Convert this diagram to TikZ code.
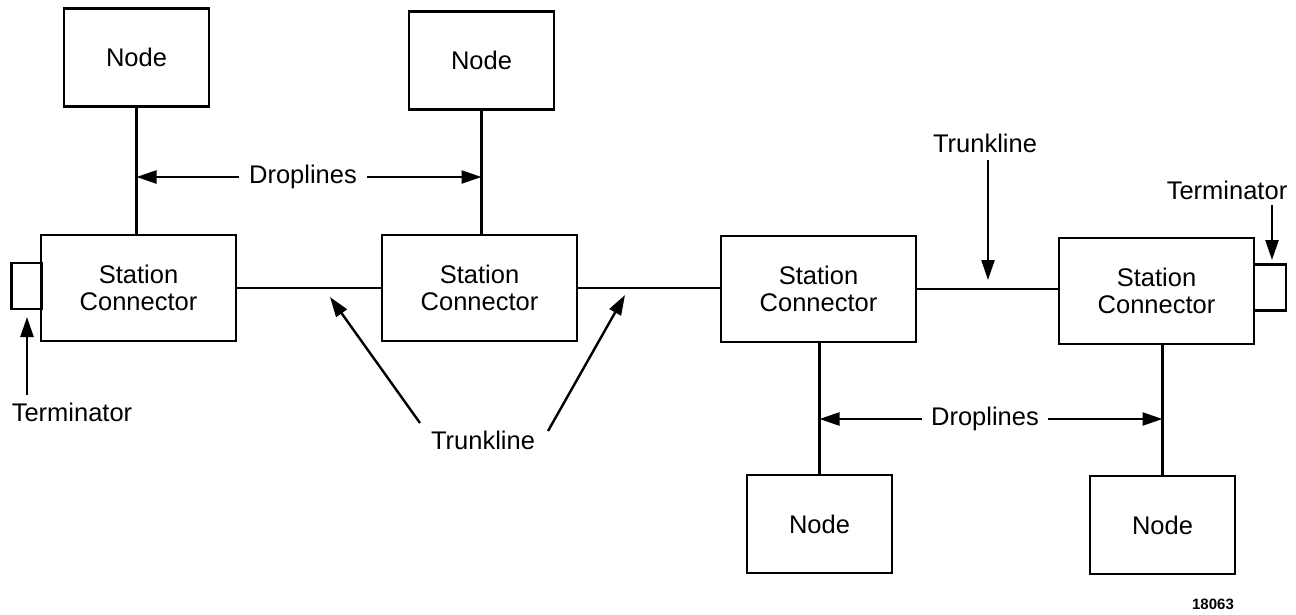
\documentclass[tikz,border=0pt]{standalone}
\usepackage{fontspec}
\setmainfont{Liberation Sans}
\usetikzlibrary{arrows.meta}
\begin{document}
\begin{tikzpicture}[x=1pt,y=-1pt,
  txt/.style={font=\fontsize{25.5}{27}\selectfont},
  box/.style={draw, line width=2.6pt, inner sep=0pt, align=center, txt},
  nodebox/.style={box, minimum width=145pt, minimum height=98pt},
  scbox/.style={box, minimum width=195pt, minimum height=106pt},
  termbox/.style={draw, line width=2.6pt, inner sep=0pt, minimum width=30pt, minimum height=46pt},
  wire/.style={line width=2.4pt},
  arr/.style={line width=2.4pt, -{Triangle[length=20pt,width=13pt]}},
  lbl/.style={txt, inner sep=0pt}]
\useasboundingbox (0,0) rectangle (1296,614);

% boxes
\node[nodebox] (N1) at (136.5,57.5) {Node};
\node[nodebox] (N2) at (481.5,60.5) {Node};
\node[nodebox] (N3) at (819.5,524) {Node};
\node[nodebox] (N4) at (1162.5,525) {Node};

\node[scbox] (SC1) at (138.5,288) {Station\\Connector};
\node[scbox] (SC2) at (479.5,288) {Station\\Connector};
\node[scbox] (SC3) at (818.5,289) {Station\\Connector};
\node[scbox] (SC4) at (1156.5,291) {Station\\Connector};

\node[termbox] (T1) at (26.5,286) {};
\node[termbox, minimum width=32pt] (T4) at (1270,287.5) {};

% trunk lines
\draw[wire] (SC1.east) -- (SC2.west);
\draw[wire] (SC2.east) -- (SC2.east -| SC3.west);
\draw[wire] (SC3.east) -- (SC3.east -| SC4.west);

% droplines
\draw[wire] (N1.south) -- (N1.south |- SC1.north);
\draw[wire] (N2.south) -- (N2.south |- SC2.north);
\draw[wire] (N3.north) -- (N3.north |- SC3.south);
\draw[wire] (N4.north) -- (N4.north |- SC4.south);

% labels
\node[lbl] (TermL) at (72,412) {Terminator};
\node[lbl] (TermR) at (1227,190) {Terminator};
\node[lbl] (TrTop) at (985,143) {Trunkline};
\node[lbl] (TrBot) at (483,440) {Trunkline};
\node[lbl, inner xsep=10pt] (DL1) at (303,177) {Droplines};
\node[lbl, inner xsep=9pt] (DL2) at (985,419) {Droplines};
\node[font=\fontsize{15}{17}\selectfont\bfseries, inner sep=0pt] (fig) at (1213,604) {18063};

% arrow end points
\coordinate (tl0) at (27,395);
\coordinate (tl1) at (27,317);
\coordinate (tr0) at (1272,205);
\coordinate (tr1) at (1272,260);
\coordinate (tt0) at (988,160);
\coordinate (tt1) at (988,280);
\coordinate (tb0) at (420,423);
\coordinate (tb1) at (330,297);
\coordinate (tb2) at (548,431);
\coordinate (tb3) at (625,295);

% arrows
\draw[arr] (tl0) -- (tl1);
\draw[arr] (tr0) -- (tr1);
\draw[arr] (tt0) -- (tt1);
\draw[arr] (tb0) -- (tb1);
\draw[arr] (tb2) -- (tb3);
\draw[arr] (DL1.west) -- (DL1.west -| N1.south);
\draw[arr] (DL1.east) -- (DL1.east -| N2.south);
\draw[arr] (DL2.west) -- (DL2.west -| N3.north);
\draw[arr] (DL2.east) -- (DL2.east -| N4.north);
\end{tikzpicture}
\end{document}
